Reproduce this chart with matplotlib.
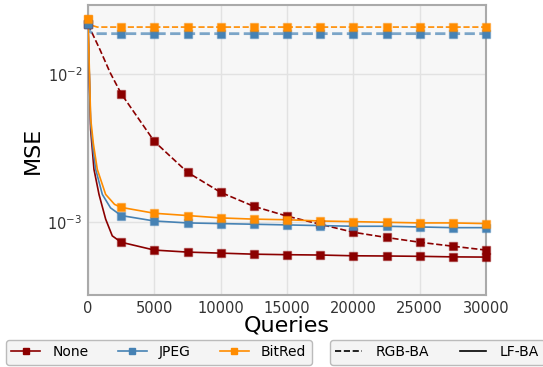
import matplotlib
matplotlib.use("Agg")
import matplotlib.pyplot as plt
from matplotlib.lines import Line2D
from matplotlib.ticker import LogLocator, NullLocator

# ---- data ----
grid_q = [0, 2500, 5000, 7500, 10000, 12500, 15000, 17500, 20000, 22500, 25000, 27500, 30000]

# RGB-BA (dashed)
none_rgb_q = [0, 905, 1660, 2500, 5000, 7500, 10000, 12500, 15000, 17500, 20000, 22500, 25000, 27500, 30000]
none_rgb_v = [0.0215, 0.0145, 0.0102, 0.00734, 0.0035, 0.00217, 0.00159, 0.00128, 0.0011, 0.00097,
              0.000857, 0.00079, 0.000734, 0.00069, 0.00065]
jpeg_rgb_q = [0, 150, 380, 2500, 5000, 7500, 10000, 12500, 15000, 17500, 20000, 22500, 25000, 27500, 30000]
jpeg_rgb_v = [0.0215, 0.0192, 0.0186, 0.0186, 0.0186, 0.0186, 0.0186, 0.0186, 0.0186, 0.0186,
              0.0186, 0.0186, 0.0186, 0.0186, 0.0186]
bit_rgb_q = [0, 250, 700, 2500, 5000, 7500, 10000, 12500, 15000, 17500, 20000, 22500, 25000, 27500, 30000]
bit_rgb_v = [0.0235, 0.0212, 0.0206, 0.0206, 0.0206, 0.0206, 0.0206, 0.0206, 0.0206, 0.0206,
             0.0206, 0.0206, 0.0206, 0.0206, 0.0206]

# LF-BA (solid)
none_lf_q = [0, 200, 450, 830, 1330, 1830, 2500, 5000, 7500, 10000, 12500, 15000, 17500, 20000,
             22500, 25000, 27500, 30000]
none_lf_v = [0.0215, 0.0042, 0.00227, 0.00154, 0.00105, 0.00081, 0.000734, 0.00065, 0.00063, 0.00062,
             0.00061, 0.000605, 0.000602, 0.000595, 0.000593, 0.00059, 0.000585, 0.000583]
jpeg_lf_q = [0, 200, 400, 580, 1080, 1700, 2500, 5000, 7500, 10000, 12500, 15000, 17500, 20000,
             22500, 25000, 27500, 30000]
jpeg_lf_v = [0.0215, 0.0046, 0.0030, 0.00227, 0.00154, 0.00125, 0.00111, 0.00102, 0.00099, 0.00098,
             0.00097, 0.00096, 0.00095, 0.00094, 0.00094, 0.00093, 0.00092, 0.00092]
bit_lf_q = [0, 200, 400, 700, 1330, 2000, 2500, 5000, 7500, 10000, 12500, 15000, 17500, 20000,
            22500, 25000, 27500, 30000]
bit_lf_v = [0.0235, 0.0050, 0.0034, 0.00227, 0.00154, 0.00132, 0.00126, 0.00115, 0.00111, 0.00107,
            0.00105, 0.00104, 0.00102, 0.00101, 0.00100, 0.00099, 0.00099, 0.00098]

names = ["None", "JPEG", "BitRed"]
colors = ["#8b0000", "#4682b4", "#ff8c00"]
xticks = [0, 5000, 10000, 15000, 20000, 25000, 30000]

fig = plt.figure(figsize=(5.43, 3.67), dpi=100)
ax = fig.add_axes([88 / 543, 1 - 295 / 367, (486 - 88) / 543, (295 - 5) / 367])
ax.set_facecolor("#f7f7f7")


def marker_idx(q):
    return [i for i, v in enumerate(q) if v in grid_q]


series = [
    (none_rgb_q, none_rgb_v, colors[0], "--", 1.2, 1.0),
    (jpeg_rgb_q, jpeg_rgb_v, colors[1], "--", 2.0, 0.7),
    (bit_rgb_q, bit_rgb_v, colors[2], "--", 1.2, 1.0),
    (none_lf_q, none_lf_v, colors[0], "-", 1.2, 1.0),
    (jpeg_lf_q, jpeg_lf_v, colors[1], "-", 1.2, 1.0),
    (bit_lf_q, bit_lf_v, colors[2], "-", 1.2, 1.0),
]
for q, v, c, ls, lw, a in series:
    ax.plot(q, v, color=c, ls=ls, lw=lw, alpha=a, zorder=3)
    idx = marker_idx(q)
    ax.plot([q[i] for i in idx], [v[i] for i in idx], ls="none", marker="s", ms=5.2,
            mfc=c, mec=matplotlib.colors.to_rgba(c, 0.45), mew=1.0, zorder=4, clip_on=False)

ax.set_yscale("log")
ax.set_xlim(0, 30000)
ax.set_ylim(3.24e-4, 0.029)
ax.set_xticks(xticks)
ax.set_xticklabels([str(t) for t in xticks])
ax.yaxis.set_major_locator(LogLocator(base=10))
ax.yaxis.set_minor_locator(NullLocator())
ax.tick_params(axis="both", length=0, labelsize=10.5, labelcolor="#333333", pad=4)
ax.grid(True, color="#e2e2e2", lw=1.0, zorder=0)
ax.set_axisbelow(True)
for s in ax.spines.values():
    s.set_color("#aaaaaa")
    s.set_linewidth(1.5)

ax.set_xlabel("Queries", fontsize=16, labelpad=0)
ax.set_ylabel("MSE", fontsize=16, labelpad=3)

h1 = [Line2D([], [], color=c, lw=1.2, marker="s", ms=5) for c in colors]
leg1 = fig.legend(h1, names, loc="upper left", bbox_to_anchor=(6 / 543, 1 - 340 / 367), ncol=3,
                  fontsize=10, frameon=True, fancybox=True, facecolor="#f4f4f4", edgecolor="#bbbbbb",
                  handlelength=2.1, handletextpad=0.86, columnspacing=2.1, borderaxespad=0,
                  borderpad=0.38, framealpha=1)
h2 = [Line2D([], [], color="black", lw=1.2, ls="--"), Line2D([], [], color="black", lw=1.2, ls="-")]
leg2 = fig.legend(h2, ["RGB-BA", "LF-BA"], loc="upper left", bbox_to_anchor=(330 / 543, 1 - 340 / 367),
                  ncol=2, fontsize=10, frameon=True, fancybox=True, facecolor="#f4f4f4",
                  edgecolor="#bbbbbb", handlelength=1.9, handletextpad=1.0, columnspacing=2.2,
                  borderaxespad=0, borderpad=0.38, framealpha=1)

fig.savefig("out.png", dpi=100)
